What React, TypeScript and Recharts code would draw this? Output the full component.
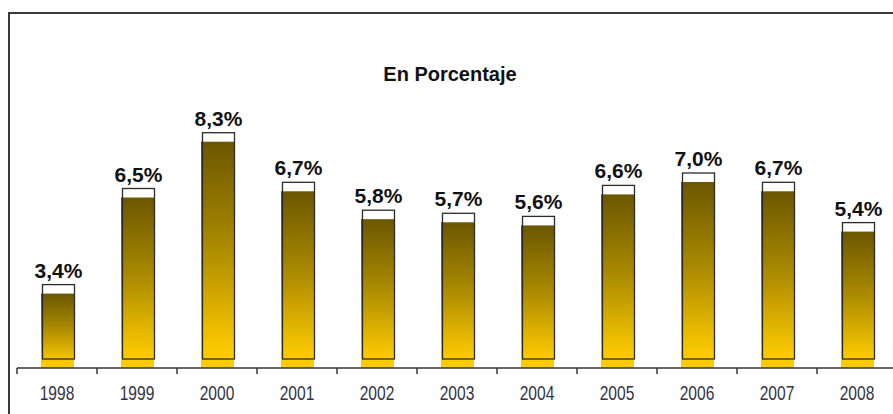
import { BarChart, Bar, XAxis, YAxis, LabelList } from "recharts";

const years = ["1998", "1999", "2000", "2001", "2002", "2003", "2004", "2005", "2006", "2007", "2008"];
const values = [3.4, 6.5, 8.3, 6.7, 5.8, 5.7, 5.6, 6.6, 7.0, 6.7, 5.4];

const data = years.map((year, i) => ({ year, value: values[i] }));

const fmt = (v: number) => `${v.toFixed(1).replace(".", ",")}%`;

// fill bar with an outlined "lid" shifted up a bit, like the original
const BarShape = (props: any) => {
  const { x, y, width, height } = props;
  const lift = 9;
  return (
    <g>
      <rect x={x + 1.5} y={y - lift} width={width - 1} height={lift} fill="#ffffff" />
      <rect x={x} y={y} width={width} height={height} fill="url(#barGrad)" />
      <rect
        x={x + 1.5}
        y={y - lift}
        width={width - 1}
        height={height}
        fill="none"
        stroke="#2b2b2b"
        strokeWidth={1.3}
      />
    </g>
  );
};

const ValueLabel = (props: any) => {
  const { x, y, width, value } = props;
  return (
    <text
      x={x + width / 2 + 1}
      y={y - 16}
      textAnchor="middle"
      fontFamily="'Liberation Sans', Arial, sans-serif"
      fontWeight="bold"
      fontSize={21}
      fill="#111111"
    >
      {fmt(value)}
    </text>
  );
};

const YearTick = (props: any) => {
  const { x, y, payload } = props;
  const half = payload.offset ?? 40;
  return (
    <g>
      <line x1={x - half} y1={y} x2={x - half} y2={y + 6} stroke="#333333" strokeWidth={1.5} />
      <text
        transform={`translate(${x}, ${y + 32}) scale(0.78, 1)`}
        textAnchor="middle"
        fontFamily="'Liberation Sans Narrow', 'Arial Narrow', 'Liberation Sans', sans-serif"
        fontSize={20}
        fill="#333344"
      >
        {payload.value}
      </text>
    </g>
  );
};

export default function App() {
  return (
    <div
      style={{
        position: "absolute",
        left: 0,
        top: 0,
        width: 893,
        height: 414,
        overflow: "hidden",
        background: "#ffffff",
      }}
    >
      <div
        style={{
          position: "absolute",
          left: 8,
          top: 12,
          width: 900,
          height: 420,
          borderTop: "2px solid #3a3a3a",
          borderLeft: "2px solid #3a3a3a",
        }}
      />
      <div
        style={{
          position: "absolute",
          left: 0,
          top: 64,
          width: 900,
          textAlign: "center",
          fontFamily: "'Liberation Sans', Arial, sans-serif",
          fontWeight: "bold",
          fontSize: 20,
          lineHeight: "20px",
          color: "#111111",
        }}
      >
        En Porcentaje
      </div>
      <div style={{ position: "absolute", left: 0, top: 0 }}>
        <BarChart
          width={897}
          height={414}
          data={data}
          margin={{ top: 120, right: 0, left: 17, bottom: 0 }}
        >
          <defs>
            <linearGradient id="barGrad" x1="0" y1="0" x2="0" y2="1">
              <stop offset="0%" stopColor="#6b5700" />
              <stop offset="45%" stopColor="#a88900" />
              <stop offset="92%" stopColor="#fcc900" />
              <stop offset="100%" stopColor="#ffcc00" />
            </linearGradient>
          </defs>
          <XAxis
            dataKey="year"
            height={46}
            axisLine={{ stroke: "#333333", strokeWidth: 1.5 }}
            tickLine={false}
            tickSize={0}
            tickMargin={0}
            interval={0}
            tick={<YearTick />}
          />
          <YAxis hide domain={[1, 9]} />
          <Bar dataKey="value" barSize={33} shape={<BarShape />} isAnimationActive={false}>
            <LabelList dataKey="value" content={<ValueLabel />} />
          </Bar>
        </BarChart>
      </div>
    </div>
  );
}
